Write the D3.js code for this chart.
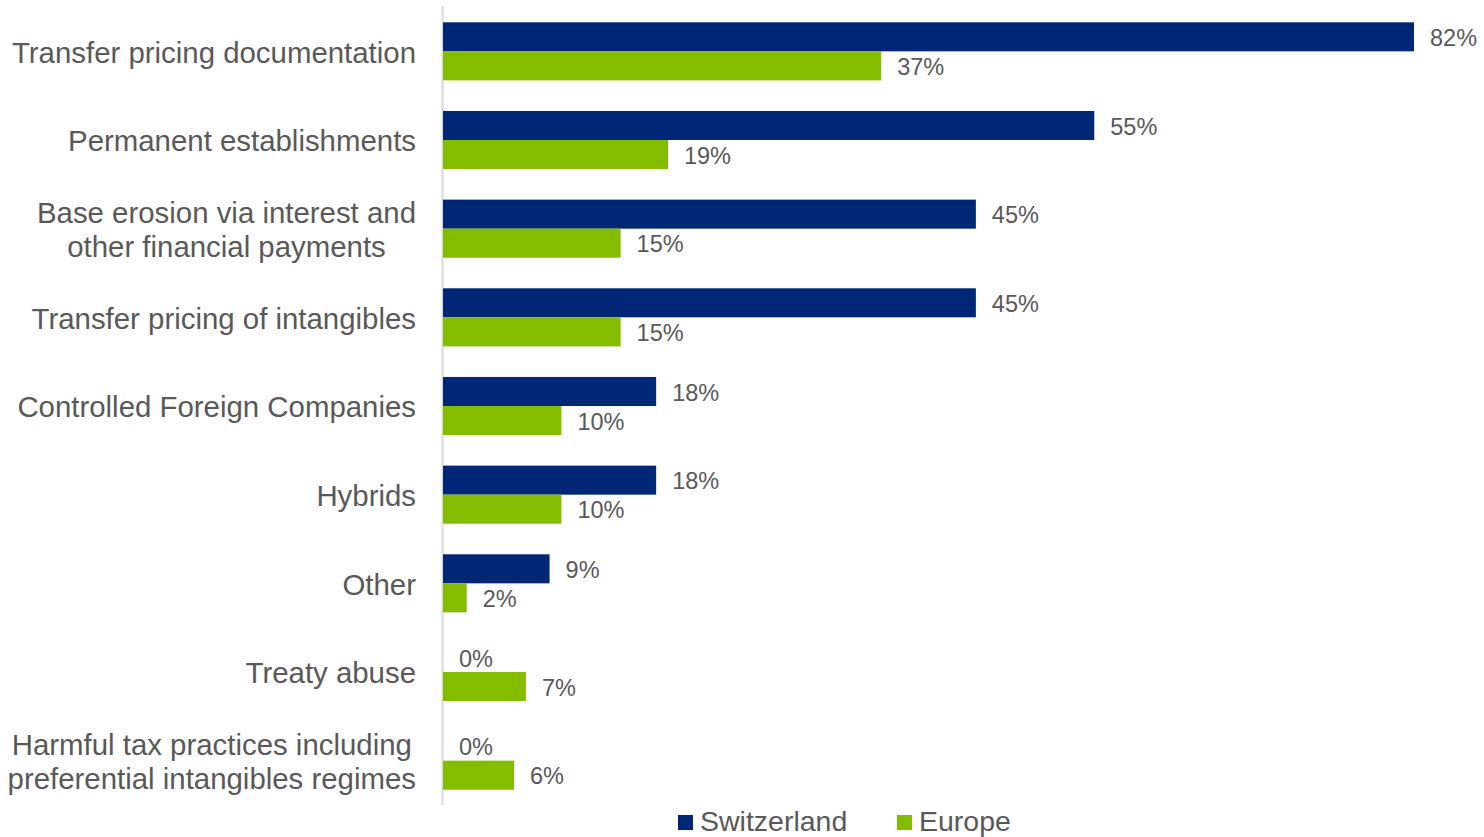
<!DOCTYPE html>
<html>
<head>
<meta charset="utf-8">
<script src="https://cdn.jsdelivr.net/npm/d3@7"></script>
<style>
  html, body { margin: 0; padding: 0; background: #fff; }
  svg { display: block; font-family: "Liberation Sans", Arial, sans-serif; }
</style>
</head>
<body>
<svg id="chart" width="1484" height="837"></svg>
<script>
// Topics (each entry is a list of label lines)
const categories = [
  ["Transfer pricing documentation"],
  ["Permanent establishments"],
  ["Base erosion via interest and", "other financial payments"],
  ["Transfer pricing of intangibles"],
  ["Controlled Foreign Companies"],
  ["Hybrids"],
  ["Other"],
  ["Treaty abuse"],
  ["Harmful tax practices including", "preferential intangibles regimes"]
];
const seriesNames = ["Switzerland", "Europe"];
const switzerland = [82, 55, 45, 45, 18, 18, 9, 0, 0];
const europe      = [37, 19, 15, 15, 10, 10, 2, 7, 6];
const colors = ["#002776", "#84bc00"];

const svg = d3.select("#chart");
const plotLeft = 443, plotRight = 1414, plotTop = 7, plotBottom = 805;
const textColor = "#595959";

const x = d3.scaleLinear().domain([0, 82]).range([plotLeft, plotRight]);
const y = d3.scaleBand()
  .domain(d3.range(categories.length))
  .range([plotTop, plotBottom])
  .paddingInner(0.345)
  .paddingOuter(0.1725);
const ySub = d3.scaleBand().domain(seriesNames).range([0, y.bandwidth()]);

const rows = categories.map((c, i) => ({
  i, lines: c, values: [switzerland[i], europe[i]]
}));

// vertical category axis line
svg.append("line")
  .attr("x1", plotLeft - 0.5).attr("x2", plotLeft - 0.5)
  .attr("y1", plotTop - 1).attr("y2", plotBottom)
  .attr("stroke", "#d9d9d9").attr("stroke-width", 2);

const g = svg.selectAll("g.row").data(rows).join("g")
  .attr("class", "row")
  .attr("transform", d => `translate(0,${y(d.i)})`);

g.selectAll("rect").data(d => d.values.map((v, k) => ({ v, k }))).join("rect")
  .attr("x", x(0))
  .attr("y", d => ySub(seriesNames[d.k]))
  .attr("width", d => x(d.v) - x(0))
  .attr("height", ySub.bandwidth())
  .attr("fill", d => colors[d.k]);

g.selectAll("text.val").data(d => d.values.map((v, k) => ({ v, k }))).join("text")
  .attr("class", "val")
  .attr("x", d => x(d.v) + 16)
  .attr("y", d => ySub(seriesNames[d.k]) + ySub.bandwidth() / 2 + 1)
  .attr("dy", "0.35em")
  .attr("font-size", 23.5)
  .attr("fill", textColor)
  .text(d => d.v + "%");

// category labels: right-aligned block, lines centred within it
const labelRight = 416, lineH = 34;
g.each(function(d) {
  const grp = d3.select(this);
  const t = grp.append("text")
    .attr("font-size", 29.4)
    .attr("fill", textColor)
    .attr("text-anchor", "middle");
  const n = d.lines.length;
  const spans = d.lines.map((line, j) => t.append("tspan")
    .attr("y", y.bandwidth() / 2 + (j - (n - 1) / 2) * lineH + 1)
    .attr("dy", "0.35em")
    .text(line));
  const maxW = d3.max(spans, s => s.node().getComputedTextLength());
  spans.forEach(s => s.attr("x", labelRight - maxW / 2));
});

// legend
const legend = svg.append("g");
const legendItems = [{ name: seriesNames[0], x: 678 }, { name: seriesNames[1], x: 897 }];
legendItems.forEach((it, k) => {
  legend.append("rect")
    .attr("x", it.x).attr("y", 815)
    .attr("width", 15).attr("height", 15)
    .attr("fill", colors[k]);
  legend.append("text")
    .attr("x", it.x + 22).attr("y", 831)
    .attr("font-size", 28.5)
    .attr("fill", textColor)
    .text(it.name);
});
</script>
</body>
</html>
